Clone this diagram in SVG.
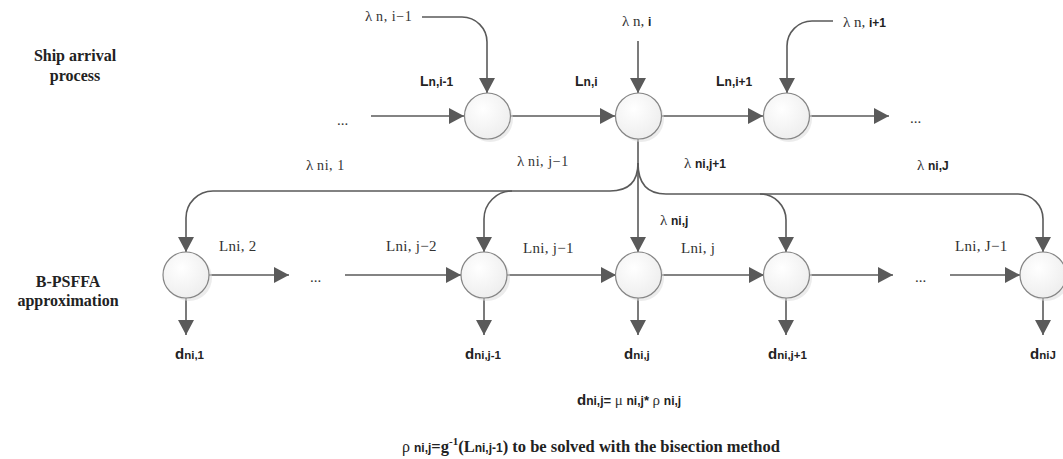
<svg xmlns="http://www.w3.org/2000/svg" width="1063" height="459" viewBox="0 0 1063 459">
<style>
.ln{fill:none;stroke:#5a5a5a;stroke-width:1.6}
.nd{fill:url(#g);stroke:#858585;stroke-width:1.2}
.sh{fill:#dcdcdc;opacity:0.55}
.sf{font-family:"Liberation Serif",serif;fill:#333;font-size:15px}
.sb{font-family:"Liberation Sans",sans-serif;font-weight:bold;fill:#222}
.hd{font-family:"Liberation Serif",serif;font-weight:bold;font-size:16px;fill:#222;text-anchor:middle}
</style>
<defs>
<radialGradient id="g" cx="0.4" cy="0.35" r="0.7">
<stop offset="0" stop-color="#ffffff"/>
<stop offset="1" stop-color="#ededed"/>
</radialGradient>
<marker id="a" markerUnits="userSpaceOnUse" markerWidth="16" markerHeight="16" refX="15" refY="8" orient="auto">
<path d="M0,0 L15,8 L0,16 z" fill="#5a5a5a"/>
</marker>
</defs>

<g id="labels-left">
<text class="hd" x="75" y="61">Ship arrival</text>
<text class="hd" x="75" y="81">process</text>
<text class="hd" x="68" y="287">B-PSFFA</text>
<text class="hd" x="68" y="306">approximation</text>
</g>

<g id="connectors">
<path class="ln" marker-end="url(#a)" d="M422,17 H462 A25,25 0 0 1 487,42 V93"/>
<path class="ln" marker-end="url(#a)" d="M638,41 V93"/>
<path class="ln" marker-end="url(#a)" d="M833,21 H812 A25,25 0 0 0 787,46 V93"/>
<path class="ln" marker-end="url(#a)" d="M371,116 H464"/>
<path class="ln" marker-end="url(#a)" d="M511,116 H615"/>
<path class="ln" marker-end="url(#a)" d="M662,116 H763"/>
<path class="ln" marker-end="url(#a)" d="M810,116 H889"/>
<path class="ln" marker-end="url(#a)" d="M638,139 V252"/>
<path class="ln" marker-end="url(#a)" d="M638,163 Q638,191 610,191 H213 A27,27 0 0 0 186,218 V252"/>
<path class="ln" marker-end="url(#a)" d="M512,191 A28,28 0 0 0 484,219 V252"/>
<path class="ln" marker-end="url(#a)" d="M638,163 Q638,194 666,194 H1018 A25,25 0 0 1 1043,219 V252"/>
<path class="ln" marker-end="url(#a)" d="M760,194 A26,26 0 0 1 786,220 V252"/>
<path class="ln" marker-end="url(#a)" d="M209,275 H289"/>
<path class="ln" marker-end="url(#a)" d="M345,275 H461"/>
<path class="ln" marker-end="url(#a)" d="M507,275 H616"/>
<path class="ln" marker-end="url(#a)" d="M661,275 H764"/>
<path class="ln" marker-end="url(#a)" d="M809,275 H893"/>
<path class="ln" marker-end="url(#a)" d="M950,275 H1020"/>
<path class="ln" marker-end="url(#a)" d="M186,298 V335"/>
<path class="ln" marker-end="url(#a)" d="M484,298 V335"/>
<path class="ln" marker-end="url(#a)" d="M638,298 V335"/>
<path class="ln" marker-end="url(#a)" d="M786,298 V335"/>
<path class="ln" marker-end="url(#a)" d="M1043,298 V335"/>
</g>

<g id="node-n-im1"><circle class="sh" cx="490" cy="119" r="23"/><circle class="nd" cx="487.5" cy="116" r="23"/></g>
<g id="node-n-i"><circle class="sh" cx="641" cy="119" r="23"/><circle class="nd" cx="638.5" cy="116" r="23"/></g>
<g id="node-n-ip1"><circle class="sh" cx="789" cy="119" r="23"/><circle class="nd" cx="786.5" cy="116" r="23"/></g>
<g id="node-b1"><circle class="sh" cx="189" cy="278" r="23"/><circle class="nd" cx="186" cy="275" r="23"/></g>
<g id="node-bjm1"><circle class="sh" cx="487" cy="278" r="23"/><circle class="nd" cx="484" cy="275" r="23"/></g>
<g id="node-bj"><circle class="sh" cx="641" cy="278" r="23"/><circle class="nd" cx="638.5" cy="275" r="23"/></g>
<g id="node-bjp1"><circle class="sh" cx="789" cy="278" r="23"/><circle class="nd" cx="786.5" cy="275" r="23"/></g>
<g id="node-bJ"><circle class="sh" cx="1046" cy="278" r="23"/><circle class="nd" cx="1043" cy="275" r="23"/></g>

<g id="texts">
<text class="sf" x="365" y="21">λ <tspan font-size="14" letter-spacing="0.6">n, i−1</tspan></text>
<text class="sf" x="622" y="26">λ <tspan font-size="15">n,</tspan> <tspan class="sb" font-size="12">i</tspan></text>
<text class="sf" x="843" y="27">λ <tspan font-size="15">n,</tspan> <tspan class="sb" font-size="12">i+1</tspan></text>
<text class="sb" x="420" y="86" font-size="14">L<tspan font-size="12">n,i-1</tspan></text>
<text class="sb" x="575" y="86" font-size="14">L<tspan font-size="12">n,i</tspan></text>
<text class="sb" x="716" y="86" font-size="14">L<tspan font-size="12">n,i+1</tspan></text>
<text class="sf" x="337" y="125" font-size="14">...</text>
<text class="sf" x="910" y="123" font-size="14">...</text>
<text class="sf" x="306" y="170">λ <tspan font-size="14" letter-spacing="0.6">ni, 1</tspan></text>
<text class="sf" x="517" y="166">λ <tspan font-size="14" letter-spacing="0.6">ni, j−1</tspan></text>
<text class="sf" x="684" y="168">λ <tspan class="sb" font-size="12">ni,j+1</tspan></text>
<text class="sf" x="917" y="170">λ <tspan class="sb" font-size="12">ni,J</tspan></text>
<text class="sf" x="660" y="225">λ <tspan class="sb" font-size="12">ni,j</tspan></text>
<text class="sf" x="219" y="251" font-size="14" letter-spacing="0.3">Lni, 2</text>
<text class="sf" x="386" y="251" font-size="14" letter-spacing="0.3">Lni, j−2</text>
<text class="sf" x="523" y="253" font-size="14" letter-spacing="0.3">Lni, j−1</text>
<text class="sf" x="681" y="253" font-size="14" letter-spacing="0.3">Lni, j</text>
<text class="sf" x="955" y="251" font-size="14" letter-spacing="0.3">Lni, J−1</text>
<text class="sf" x="310" y="282" font-size="14">...</text>
<text class="sf" x="915" y="282" font-size="14">...</text>
<text class="sb" x="175" y="359" font-size="15">d<tspan font-size="11.5">ni,1</tspan></text>
<text class="sb" x="465" y="359" font-size="15">d<tspan font-size="11.5">ni,j-1</tspan></text>
<text class="sb" x="624" y="359" font-size="15">d<tspan font-size="11.5">ni,j</tspan></text>
<text class="sb" x="768" y="359" font-size="15">d<tspan font-size="11.5">ni,j+1</tspan></text>
<text class="sb" x="1030" y="359" font-size="15">d<tspan font-size="11.5">niJ</tspan></text>
<text class="sb" x="577" y="405" font-size="15">d<tspan font-size="12">ni,j</tspan><tspan font-size="13">= </tspan><tspan class="sf" font-weight="normal" font-size="15">μ </tspan><tspan font-size="12">ni,j</tspan><tspan font-size="13">* </tspan><tspan class="sf" font-weight="normal" font-size="15">ρ </tspan><tspan font-size="12">ni,j</tspan></text>
<text x="402" y="452" font-family="Liberation Serif, serif" font-weight="bold" font-size="16.5" fill="#222"><tspan font-weight="normal" font-size="16">ρ </tspan><tspan font-size="12" font-family="Liberation Sans, sans-serif">ni,j</tspan>=g<tspan font-size="11" dy="-7">-1</tspan><tspan dy="7">(L</tspan><tspan font-size="12" font-family="Liberation Sans, sans-serif">ni,j-1</tspan>) to  be solved with the bisection method</text>
</g>
</svg>
